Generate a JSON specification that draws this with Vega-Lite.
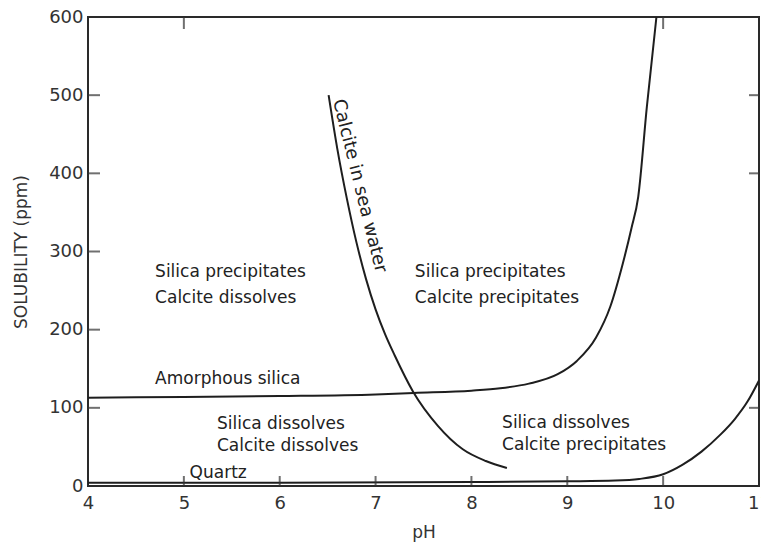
{
  "$schema": "https://vega.github.io/schema/vega-lite/v6.json",
  "width": 671,
  "height": 469,
  "autosize": {"type": "none"},
  "padding": {"left": 88, "top": 17, "right": 2, "bottom": 63},
  "background": "white",
  "config": {
    "view": {"stroke": "#2a2a2a", "strokeWidth": 2},
    "font": "DejaVu Sans",
    "axis": {
      "labelFont": "DejaVu Sans",
      "labelFontSize": 18,
      "labelColor": "#333",
      "titleFont": "DejaVu Sans",
      "titleFontSize": 17,
      "titleFontWeight": "normal",
      "titleColor": "#333",
      "grid": false,
      "domain": false,
      "ticks": false,
      "labelFlush": false
    }
  },
  "datasets": {
    "curves": [
      {"series": "Amorphous silica", "pH": 4.0, "val": 113},
      {"series": "Amorphous silica", "pH": 5.0, "val": 114},
      {"series": "Amorphous silica", "pH": 6.0, "val": 115},
      {"series": "Amorphous silica", "pH": 7.0, "val": 117},
      {"series": "Amorphous silica", "pH": 7.4, "val": 119},
      {"series": "Amorphous silica", "pH": 8.0, "val": 122},
      {"series": "Amorphous silica", "pH": 8.3, "val": 125},
      {"series": "Amorphous silica", "pH": 8.6, "val": 131},
      {"series": "Amorphous silica", "pH": 8.9, "val": 143},
      {"series": "Amorphous silica", "pH": 9.1, "val": 160},
      {"series": "Amorphous silica", "pH": 9.3, "val": 190},
      {"series": "Amorphous silica", "pH": 9.45, "val": 230},
      {"series": "Amorphous silica", "pH": 9.58, "val": 285},
      {"series": "Amorphous silica", "pH": 9.67, "val": 330},
      {"series": "Amorphous silica", "pH": 9.74, "val": 370},
      {"series": "Amorphous silica", "pH": 9.83, "val": 485},
      {"series": "Amorphous silica", "pH": 9.93, "val": 600},
      {"series": "Quartz", "pH": 4.0, "val": 4},
      {"series": "Quartz", "pH": 6.0, "val": 4},
      {"series": "Quartz", "pH": 8.0, "val": 5},
      {"series": "Quartz", "pH": 9.0, "val": 6},
      {"series": "Quartz", "pH": 9.5, "val": 7},
      {"series": "Quartz", "pH": 9.75, "val": 9},
      {"series": "Quartz", "pH": 10.0, "val": 15},
      {"series": "Quartz", "pH": 10.2, "val": 27},
      {"series": "Quartz", "pH": 10.4, "val": 44},
      {"series": "Quartz", "pH": 10.6, "val": 66},
      {"series": "Quartz", "pH": 10.75, "val": 86},
      {"series": "Quartz", "pH": 10.88, "val": 108},
      {"series": "Quartz", "pH": 11.0, "val": 135},
      {"series": "Calcite in sea water", "pH": 6.51, "val": 500},
      {"series": "Calcite in sea water", "pH": 6.6, "val": 432},
      {"series": "Calcite in sea water", "pH": 6.7, "val": 368},
      {"series": "Calcite in sea water", "pH": 6.8, "val": 312},
      {"series": "Calcite in sea water", "pH": 6.9, "val": 265},
      {"series": "Calcite in sea water", "pH": 7.0, "val": 226},
      {"series": "Calcite in sea water", "pH": 7.1, "val": 194},
      {"series": "Calcite in sea water", "pH": 7.2, "val": 167},
      {"series": "Calcite in sea water", "pH": 7.39, "val": 121},
      {"series": "Calcite in sea water", "pH": 7.65, "val": 77},
      {"series": "Calcite in sea water", "pH": 7.91, "val": 47},
      {"series": "Calcite in sea water", "pH": 8.15, "val": 32},
      {"series": "Calcite in sea water", "pH": 8.37, "val": 23}
    ],
    "bottomticks": [
      {"pH": 5, "val": 0}, {"pH": 6, "val": 0}, {"pH": 7, "val": 0}, {"pH": 8, "val": 0}, {"pH": 9, "val": 0}, {"pH": 10, "val": 0}
    ],
    "topticks": [
      {"pH": 5, "val": 600}, {"pH": 10, "val": 600}
    ],
    "leftticks": [
      {"pH": 4, "val": 100}, {"pH": 4, "val": 200}, {"pH": 4, "val": 300}, {"pH": 4, "val": 400}, {"pH": 4, "val": 500}
    ],
    "rightticks": [
      {"pH": 11, "val": 100}, {"pH": 11, "val": 400}, {"pH": 11, "val": 500}
    ],
    "labels": [
      {"text": "Silica precipitates", "pH": 4.7, "val": 274},
      {"text": "Calcite dissolves", "pH": 4.7, "val": 240},
      {"text": "Silica precipitates", "pH": 7.41, "val": 274},
      {"text": "Calcite precipitates", "pH": 7.41, "val": 240},
      {"text": "Amorphous silica", "pH": 4.7, "val": 137},
      {"text": "Silica dissolves", "pH": 5.345, "val": 79},
      {"text": "Calcite dissolves", "pH": 5.345, "val": 51},
      {"text": "Silica dissolves", "pH": 8.32, "val": 81},
      {"text": "Calcite precipitates", "pH": 8.32, "val": 53},
      {"text": "Quartz", "pH": 5.06, "val": 17}
    ],
    "rotated": [
      {"text": "Calcite in sea water", "pH": 6.83, "val": 384}
    ]
  },
  "layer": [
    {
      "data": {"name": "curves"},
      "mark": {"type": "line", "color": "#1e1e1e", "strokeWidth": 2, "interpolate": "monotone", "clip": true},
      "encoding": {
        "x": {
          "field": "pH", "type": "quantitative",
          "scale": {"domain": [4, 11], "nice": false, "zero": false},
          "axis": {"title": "pH", "values": [4, 5, 6, 7, 8, 9, 10, 11], "format": "d", "labelPadding": 8, "titlePadding": 12}
        },
        "y": {
          "field": "val", "type": "quantitative",
          "scale": {"domain": [0, 600], "nice": false},
          "axis": {"title": "SOLUBILITY (ppm)", "values": [0, 100, 200, 300, 400, 500, 600], "format": "d", "labelPadding": 5, "titlePadding": 18}
        },
        "detail": {"field": "series", "type": "nominal"}
      }
    },
    {
      "data": {"name": "bottomticks"},
      "mark": {"type": "tick", "orient": "vertical", "size": 10, "thickness": 2, "color": "#333", "yOffset": -5},
      "encoding": {
        "x": {"field": "pH", "type": "quantitative"},
        "y": {"field": "val", "type": "quantitative"}
      }
    },
    {
      "data": {"name": "topticks"},
      "mark": {"type": "tick", "orient": "vertical", "size": 12, "thickness": 2, "color": "#333", "yOffset": 6},
      "encoding": {
        "x": {"field": "pH", "type": "quantitative"},
        "y": {"field": "val", "type": "quantitative"}
      }
    },
    {
      "data": {"name": "leftticks"},
      "mark": {"type": "tick", "orient": "horizontal", "size": 12, "thickness": 2, "color": "#333", "xOffset": 6},
      "encoding": {
        "x": {"field": "pH", "type": "quantitative"},
        "y": {"field": "val", "type": "quantitative"}
      }
    },
    {
      "data": {"name": "rightticks"},
      "mark": {"type": "tick", "orient": "horizontal", "size": 10, "thickness": 2, "color": "#333", "xOffset": -5},
      "encoding": {
        "x": {"field": "pH", "type": "quantitative"},
        "y": {"field": "val", "type": "quantitative"}
      }
    },
    {
      "data": {"name": "labels"},
      "mark": {"type": "text", "align": "left", "baseline": "middle", "fontSize": 17, "font": "DejaVu Sans", "color": "#222"},
      "encoding": {
        "x": {"field": "pH", "type": "quantitative"},
        "y": {"field": "val", "type": "quantitative"},
        "text": {"field": "text"}
      }
    },
    {
      "data": {"name": "rotated"},
      "mark": {"type": "text", "align": "center", "baseline": "middle", "angle": 76, "fontSize": 18, "font": "DejaVu Sans", "color": "#222"},
      "encoding": {
        "x": {"field": "pH", "type": "quantitative"},
        "y": {"field": "val", "type": "quantitative"},
        "text": {"field": "text"}
      }
    }
  ]
}
